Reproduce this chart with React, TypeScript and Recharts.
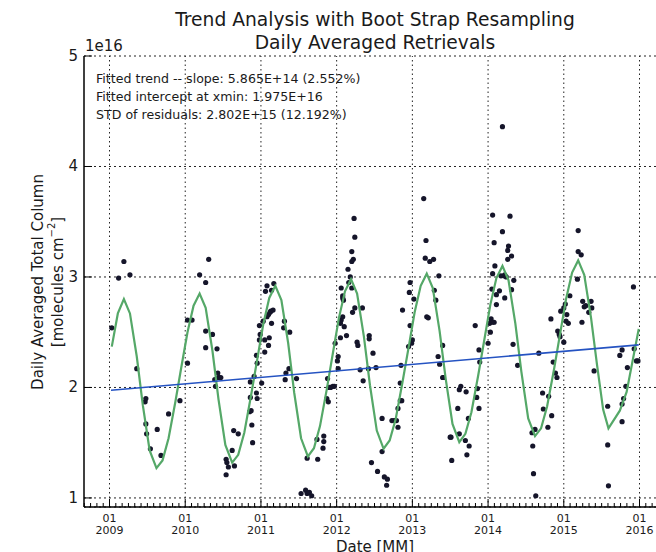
import React from 'react';
import { ScatterChart, Scatter, XAxis, YAxis, CartesianGrid } from 'recharts';

// daily averaged total column (1e16 molecules cm-2), [decimal year, value]
const obs2009: [number, number][] = [
  [2009.03, 2.54], [2009.12, 2.99], [2009.19, 3.14], [2009.27, 3.02], [2009.36, 2.17],
  [2009.47, 1.87], [2009.48, 1.9], [2009.48, 1.67], [2009.49, 1.58], [2009.54, 1.445],
  [2009.63, 1.62], [2009.68, 1.385], [2009.78, 1.76], [2009.93, 1.88],
];
const obs2010: [number, number][] = [
  [2010.03, 2.22], [2010.03, 2.61], [2010.09, 2.61], [2010.19, 3.02], [2010.27, 2.95],
  [2010.31, 3.16], [2010.27, 2.51], [2010.27, 2.36], [2010.36, 2.48], [2010.42, 2.35],
  [2010.43, 2.13], [2010.44, 2.09], [2010.45, 2.09], [2010.47, 2.09], [2010.39, 2.07],
  [2010.4, 2.01], [2010.54, 1.35], [2010.55, 1.32], [2010.57, 1.28], [2010.54, 1.21],
  [2010.62, 1.43], [2010.65, 1.29], [2010.64, 1.61], [2010.7, 1.58], [2010.85, 1.78],
  [2010.87, 1.79], [2010.88, 1.66], [2010.89, 1.5], [2010.86, 1.91], [2010.86, 2.05],
  [2010.91, 2.1], [2010.94, 1.95], [2010.95, 1.9], [2010.94, 2.29], [2010.95, 2.22],
  [2010.98, 2.43], [2010.98, 2.56], [2010.99, 2.48],
];
const obs2011: [number, number][] = [
  [2011.01, 2.04], [2011.03, 2.6], [2011.05, 2.43], [2011.05, 2.32], [2011.06, 2.87],
  [2011.08, 2.92], [2011.08, 2.64], [2011.1, 2.38], [2011.11, 2.45], [2011.1, 2.66],
  [2011.12, 2.68], [2011.13, 2.69], [2011.16, 2.7], [2011.14, 2.58], [2011.14, 2.88],
  [2011.17, 2.94], [2011.3, 2.54], [2011.31, 2.6], [2011.38, 2.5], [2011.33, 2.13],
  [2011.32, 2.07], [2011.37, 2.17], [2011.47, 2.08], [2011.53, 1.04], [2011.59, 1.07],
  [2011.61, 1.04], [2011.64, 1.05], [2011.67, 1.02], [2011.61, 1.36], [2011.74, 1.53],
  [2011.75, 1.35], [2011.82, 1.45], [2011.83, 1.56], [2011.83, 1.51], [2011.87, 1.9],
  [2011.89, 1.87], [2011.88, 2.08], [2011.9, 2.0], [2011.92, 2.0], [2011.95, 2.01],
  [2011.97, 2.01], [2011.98, 2.4],
];
const obs2012: [number, number][] = [
  [2012.02, 2.28], [2012.01, 2.24], [2012.02, 2.17], [2012.05, 2.45], [2012.05, 2.58],
  [2012.06, 2.61], [2012.08, 2.64], [2012.1, 2.55], [2012.08, 2.81], [2012.08, 2.83],
  [2012.09, 2.79], [2012.06, 2.9], [2012.13, 2.47], [2012.15, 3.07], [2012.16, 2.95],
  [2012.18, 3.0], [2012.2, 2.9], [2012.2, 3.14], [2012.22, 3.16], [2012.2, 3.23],
  [2012.21, 2.68], [2012.24, 2.72], [2012.24, 3.36], [2012.23, 3.53], [2012.27, 2.41],
  [2012.28, 2.38], [2012.34, 2.72], [2012.31, 2.16], [2012.35, 2.06], [2012.42, 2.17],
  [2012.43, 2.47], [2012.43, 2.44], [2012.48, 2.31], [2012.52, 2.18], [2012.6, 1.72],
  [2012.6, 1.42], [2012.46, 1.32], [2012.54, 1.24], [2012.63, 1.19], [2012.67, 1.17],
  [2012.66, 1.115], [2012.73, 1.7], [2012.76, 1.7], [2012.79, 1.7], [2012.81, 1.64],
  [2012.81, 1.81], [2012.84, 1.88], [2012.86, 1.88], [2012.84, 2.04], [2012.85, 2.2],
  [2012.87, 2.7], [2012.95, 2.37], [2012.96, 2.86], [2012.97, 2.95], [2012.97, 2.56],
  [2012.99, 2.4],
];
const obs2013: [number, number][] = [
  [2013.0, 2.43], [2013.02, 2.8], [2013.15, 3.71], [2013.18, 3.33], [2013.17, 3.17],
  [2013.23, 3.14], [2013.28, 3.16], [2013.19, 2.64], [2013.21, 2.63], [2013.35, 3.01],
  [2013.29, 2.88], [2013.31, 2.79], [2013.34, 2.28], [2013.36, 2.21], [2013.4, 2.38],
  [2013.4, 2.09], [2013.41, 2.09], [2013.5, 1.55], [2013.51, 1.55], [2013.52, 1.34],
  [2013.6, 1.81], [2013.62, 1.98], [2013.64, 2.01], [2013.62, 1.58], [2013.71, 1.96],
  [2013.7, 1.52], [2013.72, 1.39], [2013.75, 1.47], [2013.74, 1.72], [2013.83, 2.56],
  [2013.86, 1.99], [2013.85, 1.91], [2013.88, 1.81], [2013.88, 2.34], [2013.89, 2.23],
];
const obs2014: [number, number][] = [
  [2014.0, 2.4], [2014.03, 2.5], [2014.02, 2.58], [2014.04, 2.62], [2014.06, 2.59],
  [2014.08, 2.59], [2014.05, 2.89], [2014.06, 3.03], [2014.06, 3.56], [2014.08, 3.31],
  [2014.09, 3.1], [2014.11, 2.75], [2014.11, 2.84], [2014.15, 2.875], [2014.17, 3.01],
  [2014.19, 3.41], [2014.19, 4.36], [2014.21, 3.01], [2014.22, 3.02], [2014.24, 3.0],
  [2014.22, 2.81], [2014.26, 3.16], [2014.26, 3.24], [2014.27, 3.28], [2014.29, 3.55],
  [2014.31, 3.19], [2014.31, 2.885], [2014.34, 2.97], [2014.33, 2.39], [2014.39, 2.2],
  [2014.67, 2.31], [2014.58, 1.59], [2014.62, 1.62], [2014.59, 1.47], [2014.6, 1.22],
  [2014.63, 1.02], [2014.72, 1.95], [2014.8, 1.92], [2014.73, 1.805], [2014.79, 1.64],
  [2014.84, 1.745], [2014.83, 2.62], [2014.86, 2.23], [2014.89, 2.13], [2014.91, 2.09],
  [2014.92, 2.51], [2014.94, 2.48], [2014.95, 2.46], [2014.96, 2.69],
];
const obs2015: [number, number][] = [
  [2015.0, 2.72], [2015.0, 2.41], [2015.02, 2.755], [2015.04, 2.66], [2015.03, 2.6],
  [2015.06, 2.58], [2015.08, 2.83], [2015.19, 3.42], [2015.19, 3.23], [2015.23, 3.2],
  [2015.18, 2.98], [2015.25, 2.78], [2015.27, 2.73], [2015.29, 2.74], [2015.24, 2.59],
  [2015.33, 2.68], [2015.36, 2.78], [2015.37, 2.72], [2015.4, 2.15], [2015.58, 1.83],
  [2015.58, 1.48], [2015.59, 1.11], [2015.74, 2.29], [2015.77, 2.34], [2015.84, 2.18],
  [2015.82, 2.01], [2015.79, 1.9], [2015.77, 1.85], [2015.77, 1.69], [2015.92, 2.91],
  [2015.93, 2.35], [2015.96, 2.24], [2015.98, 2.24],
];

// seasonal fit (green)
const fitDates = [
  2009.03, 2009.11, 2009.19, 2009.27, 2009.36, 2009.44, 2009.53, 2009.62, 2009.7, 2009.78, 2009.87, 2009.95,
  2010.03, 2010.11, 2010.19, 2010.27, 2010.36, 2010.44, 2010.53, 2010.62, 2010.7, 2010.78, 2010.87, 2010.95,
  2011.03, 2011.11, 2011.19, 2011.27, 2011.36, 2011.44, 2011.53, 2011.62, 2011.7, 2011.78, 2011.87, 2011.95,
  2012.03, 2012.11, 2012.19, 2012.27, 2012.36, 2012.44, 2012.53, 2012.62, 2012.7, 2012.78, 2012.87, 2012.95,
  2013.03, 2013.11, 2013.19, 2013.27, 2013.36, 2013.44, 2013.53, 2013.62, 2013.7, 2013.78, 2013.87, 2013.95,
  2014.03, 2014.11, 2014.19, 2014.27, 2014.36, 2014.44, 2014.53, 2014.62, 2014.7, 2014.78, 2014.87, 2014.95,
  2015.03, 2015.11, 2015.19, 2015.27, 2015.36, 2015.44, 2015.52, 2015.59, 2015.74, 2015.83, 2015.99,
];
const fitValues = [
  2.37, 2.67, 2.8, 2.67, 2.28, 1.84, 1.43, 1.27, 1.34, 1.54, 1.87, 2.19,
  2.5, 2.74, 2.85, 2.72, 2.33, 1.89, 1.48, 1.32, 1.39, 1.59, 1.93, 2.25,
  2.57, 2.81, 2.92, 2.79, 2.4, 1.95, 1.54, 1.375, 1.45, 1.65, 1.985, 2.31,
  2.63, 2.87, 2.98, 2.85, 2.46, 2.02, 1.61, 1.445, 1.52, 1.715, 2.05, 2.36,
  2.68, 2.92, 3.03, 2.9, 2.51, 2.08, 1.67, 1.505, 1.58, 1.775, 2.11, 2.43,
  2.75, 2.99, 3.1, 2.97, 2.58, 2.14, 1.72, 1.56, 1.63, 1.83, 2.16, 2.48,
  2.8, 3.04, 3.15, 3.02, 2.63, 2.2, 1.8, 1.63, 1.79, 1.96, 2.53,
];

// linear trend (blue)
const trendDates = [2009.02, 2015.99];
const trendValues = [1.975, 2.385];

const yearTicks = [2009, 2010, 2011, 2012, 2013, 2014, 2015, 2016];
const yearLabels = ['2009', '2010', '2011', '2012', '2013', '2014', '2015', '2016'];
const monthLabel = '01';
const yTicks = [1, 2, 3, 4, 5];
const yLabels = ['1', '2', '3', '4', '5'];

const X_DOMAIN: [number, number] = [2008.663, 2016.35];
const Y_DOMAIN: [number, number] = [0.918, 5];

const minorTicks: number[] = [];
for (let yr = 2008; yr <= 2016; yr++) {
  for (let m = 0; m < 12; m++) {
    const v = yr + m / 12;
    if (v > X_DOMAIN[0] && v < X_DOMAIN[1]) minorTicks.push(v);
  }
}

const obsData = [...obs2009, ...obs2010, ...obs2011, ...obs2012, ...obs2013, ...obs2014, ...obs2015].map(
  ([x, y]) => ({ x, y })
);
const fitData = fitDates.map((x, i) => ({ x, y: fitValues[i] }));
const trendData = trendDates.map((x, i) => ({ x, y: trendValues[i] }));
// vertical grid lines at each year, spanning the y range
const yearGrid = yearTicks.map((t) => [
  { x: t, y: Y_DOMAIN[0] },
  { x: t, y: Y_DOMAIN[1] },
]);

const FONT = '"DejaVu Sans", sans-serif';
const TXT = '#1a1a1a';

const isMajor = (v: number) => Math.abs(v - Math.round(v)) < 1e-6;

const BottomTick = (props: any) => {
  const { x, y, payload } = props;
  const v = payload.value as number;
  const major = isMajor(v);
  const i = yearTicks.indexOf(Math.round(v));
  return (
    <g>
      <line x1={x} y1={y} x2={x} y2={y - (major ? 8 : 4)} stroke="#000" strokeWidth={1} />
      {major && i >= 0 && (
        <g fontFamily={FONT} fontSize={11} fill={TXT} textAnchor="middle">
          <text x={x} y={y + 15}>{monthLabel}</text>
          <text x={x} y={y + 27}>{yearLabels[i]}</text>
        </g>
      )}
    </g>
  );
};

const TopTick = (props: any) => {
  const { x, y, payload } = props;
  const major = isMajor(payload.value);
  return <line x1={x} y1={y} x2={x} y2={y + (major ? 8 : 4)} stroke="#000" strokeWidth={1} />;
};

const LeftTick = (props: any) => {
  const { x, y, payload } = props;
  const i = yTicks.indexOf(payload.value);
  return (
    <g>
      <line x1={x} y1={y} x2={x + 8} y2={y} stroke="#000" strokeWidth={1} />
      <text x={x - 6} y={y} dy={5} textAnchor="end" fontFamily={FONT} fontSize={15} fill={TXT}>
        {yLabels[i]}
      </text>
    </g>
  );
};

const NoDot = () => <g />;

const App: React.FC = () => {
  return (
    <div style={{ position: 'absolute', left: 0, top: 0, width: 656, height: 552, overflow: 'hidden', background: '#fff' }}>
      <ScatterChart width={720} height={552} margin={{ top: 56, right: 54, bottom: 0, left: 0 }}>
        <XAxis
          xAxisId="top"
          orientation="top"
          type="number"
          dataKey="x"
          domain={X_DOMAIN}
          ticks={minorTicks}
          interval={0}
          height={0}
          tickSize={0}
          tickMargin={0}
          tickLine={false}
          tick={<TopTick />}
          axisLine={{ stroke: '#000', strokeWidth: 1.5 }}
          allowDataOverflow
        />
        <XAxis
          type="number"
          dataKey="x"
          domain={X_DOMAIN}
          ticks={minorTicks}
          interval={0}
          height={45}
          tickSize={0}
          tickMargin={0}
          tickLine={false}
          tick={<BottomTick />}
          axisLine={{ stroke: '#000', strokeWidth: 1.5 }}
          allowDataOverflow
        />
        <YAxis
          type="number"
          dataKey="y"
          domain={Y_DOMAIN}
          ticks={yTicks}
          interval={0}
          width={84}
          tickSize={0}
          tickMargin={0}
          tickLine={false}
          tick={<LeftTick />}
          axisLine={{ stroke: '#000', strokeWidth: 1.5 }}
          allowDataOverflow
        />
        <CartesianGrid vertical={false} stroke="#222" strokeWidth={1} strokeDasharray="2 3" />
        {yearGrid.map((seg, k) => (
          <Scatter
            key={'vg' + k}
            data={seg}
            line={{ stroke: '#222', strokeWidth: 1, strokeDasharray: '1.5 3' }}
            shape={NoDot}
            legendType="none"
            isAnimationActive={false}
          />
        ))}
        <Scatter data={obsData} fill="#15152a" isAnimationActive={false} shape={(p: any) => <circle cx={p.cx} cy={p.cy} r={2.6} fill="#15152a" />} />
        <Scatter data={fitData} line={{ stroke: '#55a868', strokeWidth: 2.2 }} shape={NoDot} isAnimationActive={false} />
        <Scatter data={trendData} line={{ stroke: '#2553c2', strokeWidth: 1.6 }} shape={NoDot} isAnimationActive={false} />
      </ScatterChart>
      <svg width={656} height={552} style={{ position: 'absolute', left: 0, top: 0, pointerEvents: 'none' }}>
        <g fontFamily={FONT} fill={TXT}>
          <text x={375} y={26} fontSize={18.7} textAnchor="middle">Trend Analysis with Boot Strap Resampling</text>
          <text x={375} y={49} fontSize={18.7} textAnchor="middle">Daily Averaged Retrievals</text>
          <text x={85} y={51} fontSize={15}>1e16</text>
          <text x={96} y={83} fontSize={12.6}>Fitted trend -- slope: 5.865E+14 (2.552%)</text>
          <text x={96} y={101} fontSize={12.6}>Fitted intercept at xmin: 1.975E+16</text>
          <text x={96} y={119} fontSize={12.6}>STD of residuals: 2.802E+15 (12.192%)</text>
          <text x={375} y={552} fontSize={15} textAnchor="middle">Date [MM]</text>
          <text transform="translate(38,282) rotate(-90)" fontSize={15} textAnchor="middle" dominantBaseline="middle">
            Daily Averaged Total Column
          </text>
          <text transform="translate(58,282) rotate(-90)" fontSize={15} textAnchor="middle" dominantBaseline="middle">
            [molecules cm<tspan dy={-6} fontSize={10}>−2</tspan><tspan dy={6}>]</tspan>
          </text>
        </g>
      </svg>
    </div>
  );
};

export default App;
